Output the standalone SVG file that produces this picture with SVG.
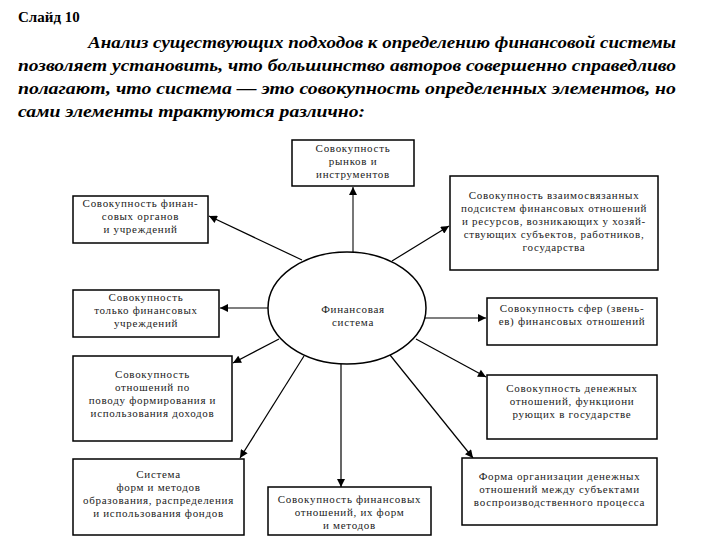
<svg xmlns="http://www.w3.org/2000/svg" width="720" height="540" viewBox="0 0 720 540" font-family="'Liberation Serif','DejaVu Serif',serif">
<style>
text{font-family:'Liberation Serif','DejaVu Serif',serif}
.title{font-weight:bold;font-size:15px;fill:#000}
.para{font-weight:bold;font-style:italic;font-size:17px;fill:#000}
.box{fill:#fff;stroke:#000;stroke-width:1.5}
.t{font-size:11px;letter-spacing:0.7px;fill:#222;text-anchor:middle}
.c{stroke:#000;stroke-width:1.2;fill:none;marker-end:url(#ah)}
.cg{stroke:#555;stroke-width:1.6;fill:none;marker-end:url(#ah)}
</style>
<defs>
<marker id="ah" viewBox="0 0 10 10" refX="10" refY="5" markerWidth="9" markerHeight="8" markerUnits="userSpaceOnUse" orient="auto">
<path d="M0,0 L10,5 L0,10 z" fill="#000"/>
</marker>
</defs>
<rect width="720" height="540" fill="#fff"/>
<text class="title" x="18" y="22">Слайд 10</text>
<text class="para" x="88" y="48" textLength="588" lengthAdjust="spacingAndGlyphs">Анализ существующих подходов к определению финансовой системы</text>
<text class="para" x="18" y="71" textLength="658" lengthAdjust="spacingAndGlyphs">позволяет установить, что большинство авторов совершенно справедливо</text>
<text class="para" x="18" y="94" textLength="658" lengthAdjust="spacingAndGlyphs">полагают, что система — это совокупность определенных элементов, но</text>
<text class="para" x="18" y="117" textLength="347" lengthAdjust="spacingAndGlyphs">сами элементы трактуются различно:</text>

<g id="connectors">
<path class="cg" d="M353,252 L353,187"/>
<path class="c" d="M302,260 L209,216"/>
<path class="c" d="M392,261 L449,226"/>
<path class="cg" d="M268,308 L220,308"/>
<path class="c" d="M425,318 L486,318"/>
<path class="c" d="M279,339 L233,363"/>
<path class="c" d="M416,339 L486,377"/>
<path class="c" d="M304,356 L240,458"/>
<path class="c" d="M341,364 L341,487"/>
<path class="c" d="M390,355 L473,458"/>
</g>

<g id="center">
<ellipse cx="347" cy="308" rx="79" ry="56" fill="#fff" stroke="#000" stroke-width="1.5"/>
<text class="t" x="353" y="313">Финансовая</text>
<text class="t" x="353" y="326">система</text>
</g>

<g id="top">
<rect class="box" x="292" y="140" width="122" height="46"/>
<text class="t" x="353" y="152">Совокупность</text>
<text class="t" x="353" y="165">рынков и</text>
<text class="t" x="353" y="178">инструментов</text>
</g>

<g id="left1">
<rect class="box" x="73" y="196" width="135" height="47"/>
<text class="t" x="140.5" y="207">Совокупность финан-</text>
<text class="t" x="140.5" y="220">совых органов</text>
<text class="t" x="140.5" y="233">и учреждений</text>
</g>

<g id="right1">
<rect class="box" x="450" y="176" width="208" height="94"/>
<text class="t" x="554" y="199">Совокупность взаимосвязанных</text>
<text class="t" x="554" y="212">подсистем финансовых отношений</text>
<text class="t" x="554" y="225">и ресурсов, возникающих у хозяй-</text>
<text class="t" x="554" y="238">ствующих субъектов, работников,</text>
<text class="t" x="554" y="251">государства</text>
</g>

<g id="left2">
<rect class="box" x="73" y="290" width="146" height="47"/>
<text class="t" x="146" y="301">Совокупность</text>
<text class="t" x="146" y="314">только финансовых</text>
<text class="t" x="146" y="327">учреждений</text>
</g>

<g id="right2">
<rect class="box" x="487" y="298" width="170" height="47"/>
<text class="t" x="572" y="312">Совокупность сфер (звень-</text>
<text class="t" x="572" y="325">ев) финансовых отношений</text>
</g>

<g id="left3">
<rect class="box" x="73" y="356" width="159" height="85"/>
<text class="t" x="152.5" y="378">Совокупность</text>
<text class="t" x="152.5" y="391">отношений по</text>
<text class="t" x="152.5" y="404">поводу формирования и</text>
<text class="t" x="152.5" y="417">использования доходов</text>
</g>

<g id="right3">
<rect class="box" x="487" y="375" width="170" height="64"/>
<text class="t" x="572" y="392">Совокупность денежных</text>
<text class="t" x="572" y="405">отношений, функциони</text>
<text class="t" x="572" y="418">рующих в государстве</text>
</g>

<g id="bottomleft">
<rect class="box" x="73" y="459" width="171" height="76"/>
<text class="t" x="158.5" y="478">Система</text>
<text class="t" x="158.5" y="491">форм и методов</text>
<text class="t" x="158.5" y="504">образования, распределения</text>
<text class="t" x="158.5" y="517">и использования фондов</text>
</g>

<g id="bottommid">
<rect class="box" x="268" y="487" width="163" height="48"/>
<text class="t" x="349.5" y="503">Совокупность финансовых</text>
<text class="t" x="349.5" y="516">отношений, их форм</text>
<text class="t" x="349.5" y="529">и методов</text>
</g>

<g id="bottomright">
<rect class="box" x="462" y="458" width="195" height="67"/>
<text class="t" x="559.5" y="480">Форма организации денежных</text>
<text class="t" x="559.5" y="493">отношений между субъектами</text>
<text class="t" x="559.5" y="506">воспроизводственного процесса</text>
</g>
</svg>
